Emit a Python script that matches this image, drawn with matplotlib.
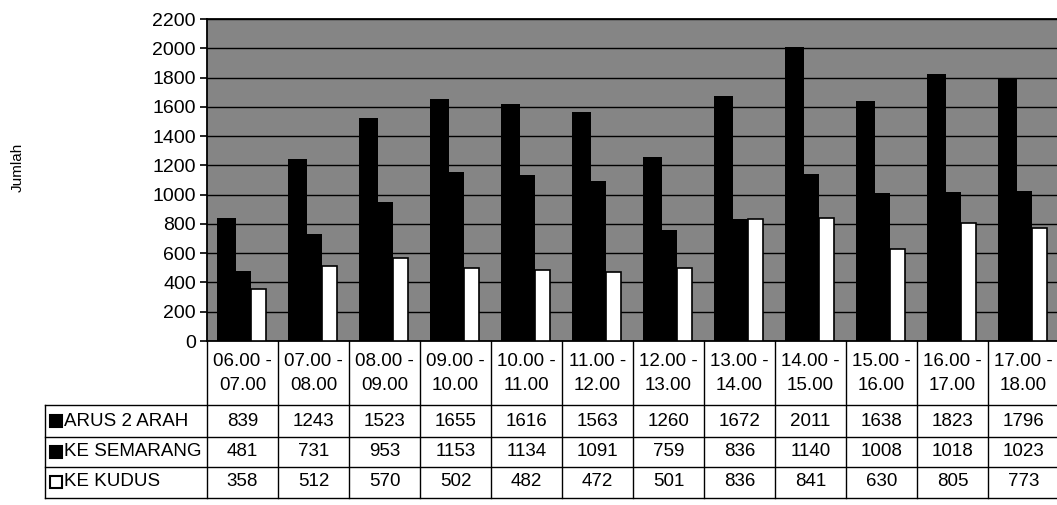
import matplotlib.pyplot as plt
from matplotlib.transforms import blended_transform_factory

W, H = 1057, 505

jam_mulai = ["06.00", "07.00", "08.00", "09.00", "10.00", "11.00",
             "12.00", "13.00", "14.00", "15.00", "16.00", "17.00"]
jam_akhir = ["07.00", "08.00", "09.00", "10.00", "11.00", "12.00",
             "13.00", "14.00", "15.00", "16.00", "17.00", "18.00"]
arus_2_arah = [839, 1243, 1523, 1655, 1616, 1563, 1260, 1672, 2011, 1638, 1823, 1796]
ke_semarang = [481, 731, 953, 1153, 1134, 1091, 759, 836, 1140, 1008, 1018, 1023]
ke_kudus = [358, 512, 570, 502, 482, 472, 501, 836, 841, 630, 805, 773]
series_names = ["ARUS 2 ARAH", "KE SEMARANG", "KE KUDUS"]

plt.rcParams['font.family'] = ['Liberation Sans', 'DejaVu Sans']

def fx(p):
    return p / W

def fy(p):
    return 1 - p / H

fig = plt.figure(figsize=(W / 100, H / 100), dpi=100)
ax = fig.add_axes([fx(207), fy(341), 852 / W, (341 - 19) / H])
ax.set_facecolor('#858585')

n = len(jam_mulai)
xs = list(range(n))
ax.bar([x + 0.14 for x in xs], arus_2_arah, width=0.27, align='edge', color='black', zorder=3)
ax.bar([x + 0.41 for x in xs], ke_semarang, width=0.21, align='edge', color='black', zorder=3)
ax.bar([x + 0.62 for x in xs], ke_kudus, width=0.21, align='edge', color='white',
       edgecolor='black', linewidth=1.2, zorder=3)

ax.set_xlim(0, n)
ax.set_ylim(0, 2200)
ax.set_yticks(range(0, 2201, 200))
ax.yaxis.grid(True, color='black', linewidth=1.0, zorder=1)
ax.set_axisbelow(True)
ax.set_xticks([])
ax.tick_params(axis='y', labelsize=14, length=5, width=1.2, pad=3)
for s in ax.spines.values():
    s.set_linewidth(1.3)

fig.text(fx(18), fy(167), "Jumlah", rotation=90, ha='center', va='center', fontsize=11)

# tabel data di bawah grafik
trans = blended_transform_factory(ax.transData, fig.transFigure)
kw = dict(color='black', linewidth=1.0, clip_on=False)
for i in range(n + 1):
    ax.plot([i, i], [fy(341), fy(498)], transform=trans, **kw)
for yp in [405, 437, 467, 498]:
    fig.add_artist(plt.Line2D([fx(45), 1], [fy(yp), fy(yp)], color='black', linewidth=1.0))
fig.add_artist(plt.Line2D([fx(45), fx(45)], [fy(405), fy(498)], color='black', linewidth=1.0))

for i in range(n):
    ax.text(i + 0.5, fy(362), jam_mulai[i] + " -", transform=trans, ha='center', va='center', fontsize=13.5)
    ax.text(i + 0.5, fy(386), jam_akhir[i], transform=trans, ha='center', va='center', fontsize=13.5)

rows = [arus_2_arah, ke_semarang, ke_kudus]
row_y = [421, 452, 482]
key_colors = ['black', 'black', 'white']
for name, vals, yp, kc in zip(series_names, rows, row_y, key_colors):
    fig.add_artist(plt.Rectangle((fx(50), fy(yp + 6)), 12 / W, 12 / H, facecolor=kc,
                                 edgecolor='black', linewidth=1.5, transform=fig.transFigure))
    fig.text(fx(64), fy(yp), name, ha='left', va='center', fontsize=13.5)
    for i, v in enumerate(vals):
        ax.text(i + 0.5, fy(yp), str(v), transform=trans, ha='center', va='center', fontsize=13.5)

fig.savefig("out.png", dpi=100)
